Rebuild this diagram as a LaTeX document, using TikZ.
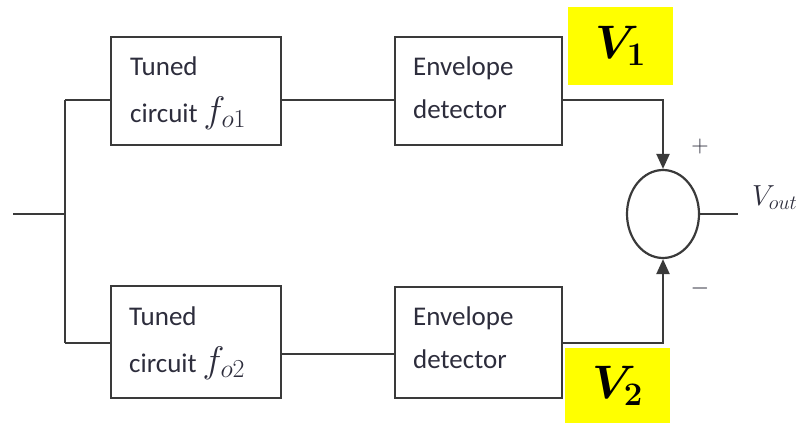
\RequirePackage{fix-cm}
\documentclass[tikz,border=0pt]{standalone}
\usepackage[no-math]{fontspec}
\usepackage{bm}
\setmainfont{Carlito}
\usetikzlibrary{arrows.meta,shapes.geometric}
\definecolor{linecol}{RGB}{58,58,58}
\definecolor{txtcol}{RGB}{45,45,60}
\definecolor{hiyellow}{RGB}{255,255,0}
\newcommand{\bigmath}[1]{{\fontsize{37}{40}\selectfont$#1$}}
\tikzset{
  blockbox/.style={draw=linecol, line width=2.4pt, minimum width=#1, inner sep=0pt},
  wire/.style={draw=linecol, line width=2.2pt},
  arr/.style={wire, -{Triangle[width=13pt,length=15pt]}},
  btxt/.style={anchor=base west, inner sep=0pt, text=txtcol, font=\fontsize{27}{30}\selectfont},
  vlabel/.style={fill=hiyellow, inner sep=0pt, minimum width=105pt, font=\fontsize{47}{50}\selectfont},
  sign/.style={inner sep=0pt, text=txtcol, font=\fontsize{24}{26}\selectfont}
}
\begin{document}
\begin{tikzpicture}[x=1pt,y=-1pt]
\useasboundingbox (0,0) rectangle (802,423);
% blocks
\node[blockbox=170pt, minimum height=108pt] (t1) at (196,91) {};
\node[blockbox=170pt, minimum height=112pt] (t2) at (196,342) {};
\node[blockbox=167pt, minimum height=108pt] (e1) at (478.5,91) {};
\node[blockbox=167pt, minimum height=111pt] (e2) at (478.5,342.5) {};
% texts
\node[btxt] (t1a) at (130,75) {Tuned};
\node[btxt] (t1b) at (130,122) {circuit\hspace{6pt}\bigmath{f_{o1}}};
\node[btxt] (t2a) at (129,325) {Tuned};
\node[btxt] (t2b) at (129,372) {circuit\hspace{6pt}\bigmath{f_{o2}}};
\node[btxt] (e1a) at (413,75) {Envelope};
\node[btxt] (e1b) at (413,118) {detector};
\node[btxt] (e2a) at (413,325) {Envelope};
\node[btxt] (e2b) at (413,368) {detector};
% summing junction
\node[ellipse, draw=linecol, line width=2.2pt, minimum width=72pt, minimum height=88pt, inner sep=0pt] (sum) at (663,214) {};
% coordinates
\coordinate (in) at (13,214);
\coordinate (jn) at (65,214);
\coordinate (r1) at (65,100);
\coordinate (r2) at (65,343);
\coordinate (m2) at (0,354);
\coordinate (out) at (738,214);
% wires
\draw[wire] (in) -- (jn);
\draw[wire] (r1) -- (r2);
\draw[wire] (r1) -- (t1.west |- r1);
\draw[wire] (r2) -- (t2.west |- r2);
\draw[wire] (t1.east |- r1) -- (e1.west |- r1);
\draw[wire] (t2.east |- m2) -- (e2.west |- m2);
\draw[arr] (e1.east |- r1) -| (sum.north);
\draw[arr] (e2.east |- r2) -| (sum.south);
\draw[wire] (sum.east) -- (out);
% signs
\node[sign] (plus) at (700,146) {$+$};
\node[sign] (minus) at (700,288) {$-$};
% output label
\node[anchor=base west, inner sep=0pt, text=txtcol, font=\fontsize{29}{32}\selectfont] (vout) at (752,205) {$V_{out}$};
% highlighted labels
\node[vlabel, minimum height=78pt] (v1) at (620.5,46) {$\bm{V}_{\bm{1}}$};
\node[vlabel, minimum height=75pt] (v2) at (617.5,385.5) {$\bm{V}_{\bm{2}}$};
\end{tikzpicture}
\end{document}
